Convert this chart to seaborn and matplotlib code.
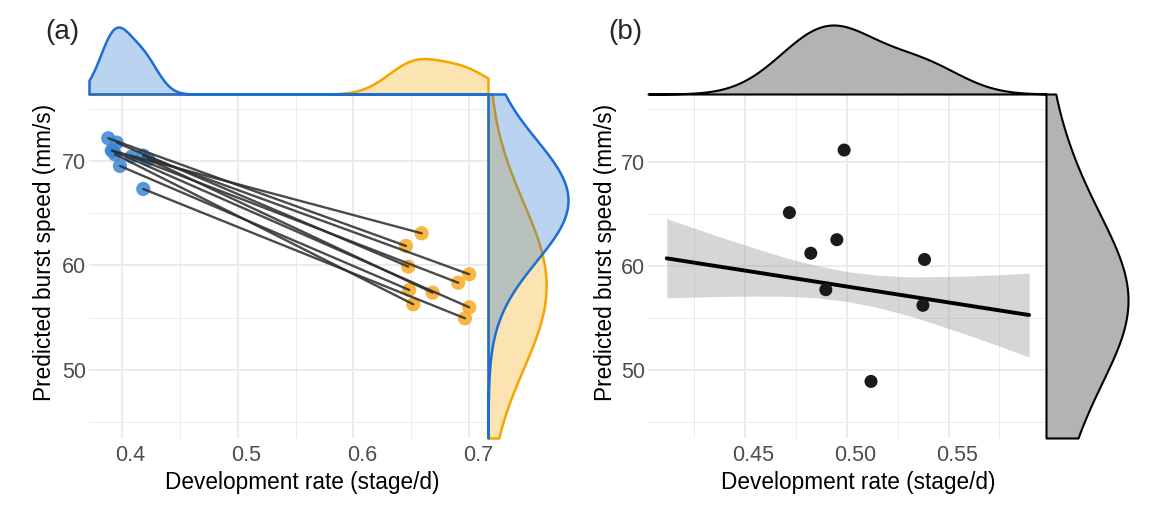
import numpy as np
import pandas as pd
import matplotlib
matplotlib.use("Agg")
import matplotlib.pyplot as plt
import matplotlib.transforms as mtransforms
from matplotlib.ticker import MultipleLocator, FormatStrFormatter
import seaborn as sns

# ---------------- data ----------------
# panel (a): paired development rate / burst speed, early vs late group
dev_early = [0.3884, 0.3957, 0.3914, 0.3942, 0.3985, 0.4086, 0.4186, 0.4230, 0.4186, 0.3925]
speed_early = [72.17, 71.75, 70.99, 70.64, 69.52, 70.41, 70.51, 70.16, 67.32, 70.96]
dev_late = [0.6453, 0.6473, 0.6588, 0.6516, 0.6481, 0.6904, 0.6999, 0.6683, 0.6962, 0.6999]
speed_late = [61.87, 59.89, 63.08, 56.29, 57.66, 58.35, 59.16, 57.40, 54.95, 56.00]

# panel (b): points
dev_b = [0.4987, 0.4718, 0.4951, 0.4823, 0.5382, 0.4897, 0.5374, 0.5119]
speed_b = [71.1, 65.1, 62.5, 61.2, 60.6, 57.7, 56.2, 48.9]

# panel (b): fitted line and confidence band
fit_x = [0.4115, 0.5896]
fit_y = [60.71, 55.27]
band_x = [0.4115, 0.425, 0.44, 0.455, 0.47, 0.485, 0.50, 0.515, 0.53, 0.545, 0.56, 0.575, 0.5896]
band_hi = [64.51, 63.61, 62.62, 61.67, 60.77, 60.02, 59.44, 59.10, 58.94, 58.95, 59.02, 59.13, 59.30]
band_lo = [56.91, 56.99, 57.06, 57.09, 57.07, 56.92, 56.58, 56.00, 55.24, 54.31, 53.32, 52.29, 51.24]

x_label = "Development rate (stage/d)"
y_label = "Predicted burst speed (mm/s)"

# ---------------- style ----------------
sns.set_theme(style="white")
plt.rcParams['font.family'] = ['Liberation Sans', 'DejaVu Sans']

BLUE_LINE = "#1b6fd2"
BLUE_PT = "#3a86d8"
ORANGE_LINE = "#f5a500"
ORANGE_PT = "#f7aa22"
GRID = "#ebebeb"
TICK = "#4d4d4d"

W, H = 1150, 516
fig = plt.figure(figsize=(W / 100, H / 100), dpi=100)


def ax_px(x0, y0, x1, y1):
    return fig.add_axes([x0 / W, 1 - y1 / H, (x1 - x0) / W, (y1 - y0) / H])


def style_main(ax, xmaj, xmin_, xfmt, xlim, ylim):
    ax.set_xlim(*xlim)
    ax.set_ylim(*ylim)
    ax.xaxis.set_major_locator(MultipleLocator(xmaj))
    ax.xaxis.set_minor_locator(MultipleLocator(xmin_))
    ax.yaxis.set_major_locator(MultipleLocator(10))
    ax.yaxis.set_minor_locator(MultipleLocator(5))
    ax.xaxis.set_major_formatter(FormatStrFormatter(xfmt))
    ax.yaxis.set_major_formatter(FormatStrFormatter('%d'))
    ax.grid(True, which='major', color=GRID, lw=1.4)
    ax.grid(True, which='minor', color=GRID, lw=0.7)
    ax.set_axisbelow(True)
    for s in ax.spines.values():
        s.set_visible(False)
    ax.tick_params(which='both', length=0, labelcolor=TICK, labelsize=15.5)
    ax.tick_params(axis='x', pad=5)
    ax.tick_params(axis='y', pad=2)
    off = mtransforms.ScaledTranslation(8.5 / 100, 0, fig.dpi_scale_trans)
    for lab in ax.get_xticklabels():
        lab.set_transform(lab.get_transform() + off)


def fit_marg(ax, axis):
    mx = 0
    for c in ax.collections:
        for p in c.get_paths():
            v = p.vertices
            mx = max(mx, v[:, 1].max() if axis == 'y' else v[:, 0].max())
    if axis == 'y':
        ax.set_ylim(0, mx)
    else:
        ax.set_xlim(0, mx)
    ax.set_axis_off()


# ================= panel (a) =================
xa = (0.3718, 0.7161)
ya = (43.5, 76.4)
ax_a = ax_px(89, 94, 488, 438)

pairs = pd.DataFrame({
    "pair": list(range(len(dev_early))) * 2,
    "dev": dev_early + dev_late,
    "speed": speed_early + speed_late,
})
sns.scatterplot(x=dev_early, y=speed_early, color=BLUE_PT, s=105, alpha=0.85,
                edgecolor='none', ax=ax_a, zorder=3)
sns.scatterplot(x=dev_late, y=speed_late, color=ORANGE_PT, s=105, alpha=0.85,
                edgecolor='none', ax=ax_a, zorder=3)
sns.lineplot(data=pairs, x="dev", y="speed", units="pair", estimator=None, sort=False,
             color="#2b2b2b", lw=1.7, alpha=0.85, ax=ax_a, zorder=4, legend=False)
style_main(ax_a, 0.1, 0.05, '%.1f', xa, ya)
ax_a.set_xlabel(x_label, fontsize=16.3, color='black')
ax_a.set_ylabel(y_label, fontsize=16.3, color='black')
ax_a.xaxis.set_label_coords(0.534, -0.096)
ax_a.yaxis.set_label_coords(-0.083, 0.539)

# top marginal (a)
ax_at = ax_px(89, 27, 488, 94)
for vals, col in ((dev_late, ORANGE_LINE), (dev_early, BLUE_LINE)):
    sns.kdeplot(x=vals, ax=ax_at, fill=True, color=col, alpha=0.3, linewidth=1.8,
                bw_adjust=1.5, clip=xa, cut=1000, clip_on=False)
ax_at.set_xlim(*xa)
fit_marg(ax_at, 'y')

# right marginal (a)
ya_r = (37.0, 85.4)
ax_ar = ax_px(488, 94, 568, 438)
for vals, col, bw in ((speed_late, ORANGE_LINE, 7.0), (speed_early, BLUE_LINE, 10.0)):
    sns.kdeplot(y=vals, ax=ax_ar, fill=True, color=col, alpha=0.3, linewidth=1.8,
                bw_adjust=bw, clip=ya_r, cut=1000, clip_on=False)
ax_ar.set_ylim(*ya_r)
fit_marg(ax_ar, 'x')

# ================= panel (b) =================
xb = (0.4023, 0.5979)
yb = (43.47, 76.48)
ax_b = ax_px(648, 94, 1046, 438)
ax_b.fill_between(band_x, band_lo, band_hi, color='#999999', alpha=0.4, lw=0, zorder=2)
sns.lineplot(x=fit_x, y=fit_y, color='black', lw=2.8, ax=ax_b, zorder=3)
sns.scatterplot(x=dev_b, y=speed_b, color='#1a1a1a', s=88, edgecolor='none', ax=ax_b, zorder=4)
style_main(ax_b, 0.05, 0.025, '%.2f', xb, yb)
ax_b.set_xlabel(x_label, fontsize=16.3, color='black')
ax_b.set_ylabel(y_label, fontsize=16.3, color='black')
ax_b.xaxis.set_label_coords(0.528, -0.096)
ax_b.yaxis.set_label_coords(-0.079, 0.539)

ax_bt = ax_px(648, 25, 1046, 94)
sns.kdeplot(x=dev_b, ax=ax_bt, fill=True, color='black', facecolor='#b3b3b3', alpha=1,
            linewidth=1.5, bw_adjust=1.2, clip=xb, cut=1000, clip_on=False)
ax_bt.set_xlim(*xb)
fit_marg(ax_bt, 'y')

yb_r = (49.5, 77.5)
ax_br = ax_px(1046, 94, 1128, 438)
sns.kdeplot(y=speed_b, ax=ax_br, fill=True, color='black', facecolor='#b3b3b3', alpha=1,
            linewidth=1.5, bw_adjust=1.3, clip=yb_r, cut=1000, clip_on=False)
ax_br.set_ylim(*yb_r)
fit_marg(ax_br, 'x')

fig.text(45 / W, 1 - 32 / H, "(a)", fontsize=20, va='center', ha='left')
fig.text(608 / W, 1 - 32 / H, "(b)", fontsize=20, va='center', ha='left')

fig.savefig("out.png", dpi=100, facecolor='white')
